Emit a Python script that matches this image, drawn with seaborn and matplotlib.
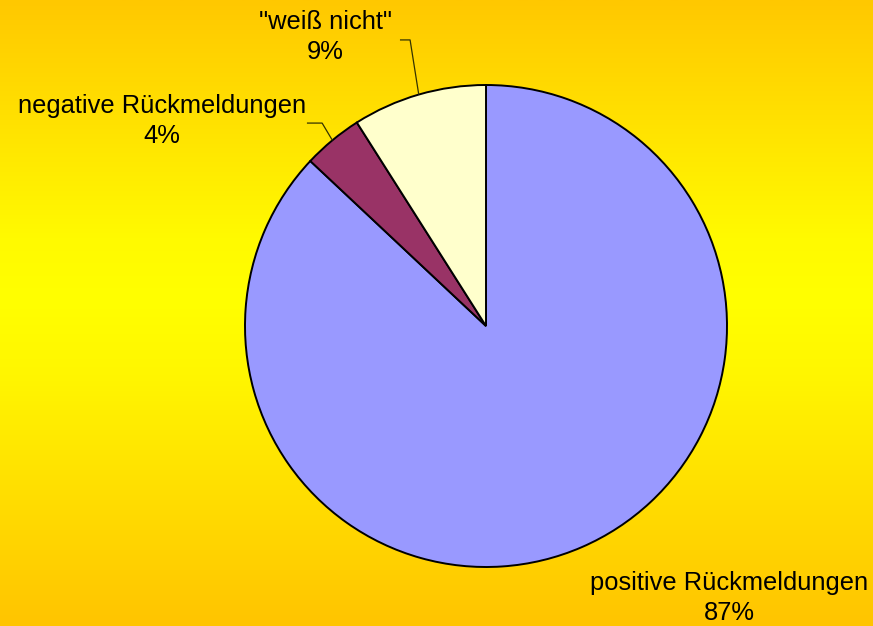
import numpy as np
import seaborn as sns
import matplotlib.pyplot as plt
from matplotlib.colors import LinearSegmentedColormap

categories = ['positive Rückmeldungen', 'negative Rückmeldungen', '"weiß nicht"']
shares = [87, 4, 9]
colors = ['#9999FF', '#993366', '#FFFFCC']

sns.set_style('white')
plt.rcParams['font.family'] = ['Liberation Sans', 'DejaVu Sans']

fig = plt.figure(figsize=(8.73, 6.26), dpi=100)

# gradient background (orange - yellow - orange)
bg = fig.add_axes([0, 0, 1, 1], zorder=0)
cmap = LinearSegmentedColormap.from_list(
    'bg', [(0, '#FFC800'), (0.38, '#FFFA00'), (0.48, '#FFFF00'),
           (0.6, '#FFF600'), (1, '#FFC400')])
grad = np.linspace(0, 1, 256).reshape(-1, 1)
bg.imshow(grad, aspect='auto', cmap=cmap, extent=[0, 1, 0, 1], origin='upper')
bg.axis('off')

ax = fig.add_axes([0, 0, 1, 1], zorder=1)
ax.patch.set_alpha(0)
wedges, _ = ax.pie(shares, colors=colors, startangle=90, counterclock=False,
                   wedgeprops=dict(edgecolor='black', linewidth=1.4))
ax.set_aspect('equal')
r_px = 241
ax.set_xlim(-486 / r_px, (873 - 486) / r_px)
ax.set_ylim((326 - 626) / r_px, 326 / r_px)
ax.axis('off')

# label positions (axes data units) and elbow points for leaders
label_pos = [(1.008, -1.129), (-1.344, 0.851), (-0.668, 1.199)]
elbows = [None, (-0.743, -0.680, 0.842), (-0.357, -0.315, 1.187)]

for w, name, val, pos, elb in zip(wedges, categories, shares, label_pos, elbows):
    ax.text(pos[0], pos[1], f'{name}\n{val}%', ha='center', va='center',
            fontsize=18.4, linespacing=1.3, color='black')
    if elb is not None:
        mid = np.deg2rad((w.theta1 + w.theta2) / 2)
        ex, ey = np.cos(mid), np.sin(mid)
        ax.plot([elb[0], elb[1], ex], [elb[2], elb[2], ey],
                color='#333300', lw=0.9, solid_capstyle='butt')

fig.savefig('out.png', dpi=100)
